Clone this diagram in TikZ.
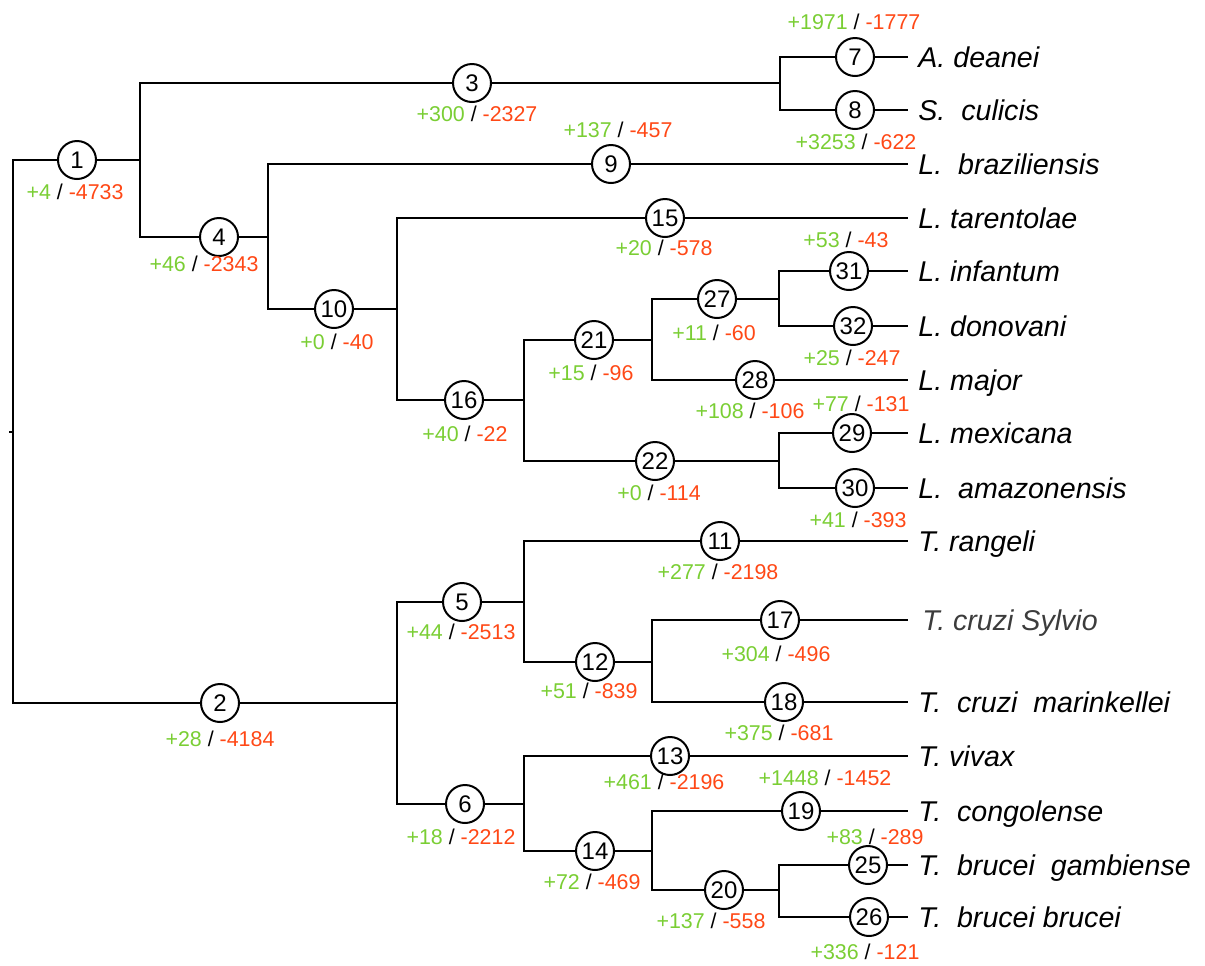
\documentclass[tikz,border=0pt]{standalone}
\usepackage{fontspec}
\setmainfont{Liberation Sans}
\definecolor{gn}{RGB}{122,206,52}
\definecolor{rd}{RGB}{255,72,22}
\definecolor{dk}{RGB}{60,60,60}
\tikzset{
  br/.style={line width=1pt},
  nd/.style={circle, draw, line width=1pt, minimum size=19pt, inner sep=0pt, fill=white, font=\fontsize{12}{14}\selectfont},
  lab/.style={anchor=base, inner sep=0pt, font=\fontsize{10.7}{12}\selectfont},
  leaf/.style={anchor=base west, inner sep=0pt, font=\fontsize{14.3}{17}\selectfont\itshape}
}
\newcommand\glab[5]{\node[lab] (#1) at (#2,#3) {\textcolor{gn}{+#4} / \textcolor{rd}{-#5}};}
\begin{document}
\begin{tikzpicture}[x=0.5pt,y=-0.5pt]
\useasboundingbox (0,0) rectangle (1205,965);
% junctions
\coordinate (root0) at (9,432);
\coordinate (root) at (13,432);
\coordinate (j1) at (140,160);
\coordinate (j3) at (780,83);
\coordinate (j4) at (268,237);
\coordinate (j10) at (397,309);
\coordinate (j16) at (524,400);
\coordinate (j21) at (652,340);
\coordinate (j27) at (779,299);
\coordinate (j22) at (779,461);
\coordinate (j2) at (397,703);
\coordinate (j5) at (524,602);
\coordinate (j12) at (652,662);
\coordinate (j6) at (524,804);
\coordinate (j14) at (652,851);
\coordinate (j20) at (779,890);
% leaf ends
\foreach \n/\y in {7/57,8/110,9/164,15/218,31/271,32/326,28/380,29/433,30/488,11/541,17/620,18/702,13/756,19/811,25/865,26/917}
  \coordinate (e\n) at (908,\y);
% circle nodes
\node[nd] (n1) at (77,160) {1};
\node[nd] (n2) at (220,703) {2};
\node[nd] (n3) at (472,83) {3};
\node[nd] (n4) at (219,237) {4};
\node[nd] (n5) at (462,602) {5};
\node[nd] (n6) at (465,804) {6};
\node[nd] (n7) at (855,57) {7};
\node[nd] (n8) at (855,110) {8};
\node[nd] (n9) at (611,164) {9};
\node[nd] (n10) at (334,309) {10};
\node[nd] (n11) at (720,541) {11};
\node[nd] (n12) at (595,662) {12};
\node[nd] (n13) at (670,756) {13};
\node[nd] (n14) at (595,851) {14};
\node[nd] (n15) at (665,218) {15};
\node[nd] (n16) at (464,400) {16};
\node[nd] (n17) at (780,620) {17};
\node[nd] (n18) at (784,702) {18};
\node[nd] (n19) at (801,811) {19};
\node[nd] (n20) at (724,890) {20};
\node[nd] (n21) at (594,340) {21};
\node[nd] (n22) at (655,461) {22};
\node[nd] (n25) at (868,865) {25};
\node[nd] (n26) at (869,917) {26};
\node[nd] (n27) at (717,299) {27};
\node[nd] (n28) at (755,380) {28};
\node[nd] (n29) at (852,433) {29};
\node[nd] (n30) at (855,488) {30};
\node[nd] (n31) at (849,271) {31};
\node[nd] (n32) at (853,326) {32};
% branches
\draw[line width=0.6pt] (root0) -- (root);
\draw[br] (root) |- (n1) -- (j1);
\draw[br] (root) |- (n2) -- (j2);
\draw[br] (j1) |- (n3) -- (j3);
\draw[br] (j1) |- (n4) -- (j4);
\draw[br] (j3) |- (n7) -- (e7);
\draw[br] (j3) |- (n8) -- (e8);
\draw[br] (j4) |- (n9) -- (e9);
\draw[br] (j4) |- (n10) -- (j10);
\draw[br] (j10) |- (n15) -- (e15);
\draw[br] (j10) |- (n16) -- (j16);
\draw[br] (j16) |- (n21) -- (j21);
\draw[br] (j16) |- (n22) -- (j22);
\draw[br] (j21) |- (n27) -- (j27);
\draw[br] (j21) |- (n28) -- (e28);
\draw[br] (j27) |- (n31) -- (e31);
\draw[br] (j27) |- (n32) -- (e32);
\draw[br] (j22) |- (n29) -- (e29);
\draw[br] (j22) |- (n30) -- (e30);
\draw[br] (j2) |- (n5) -- (j5);
\draw[br] (j2) |- (n6) -- (j6);
\draw[br] (j5) |- (n11) -- (e11);
\draw[br] (j5) |- (n12) -- (j12);
\draw[br] (j12) |- (n17) -- (e17);
\draw[br] (j12) |- (n18) -- (e18);
\draw[br] (j6) |- (n13) -- (e13);
\draw[br] (j6) |- (n14) -- (j14);
\draw[br] (j14) |- (n19) -- (e19);
\draw[br] (j14) |- (n20) -- (j20);
\draw[br] (j20) |- (n25) -- (e25);
\draw[br] (j20) |- (n26) -- (e26);
% gain/loss labels
\glab{l1}{75}{199.5}{4}{4733}
\glab{l3}{477}{121.5}{300}{2327}
\glab{l7}{854}{29.5}{1971}{1777}
\glab{l8}{856}{149.5}{3253}{622}
\glab{l4}{204}{271.5}{46}{2343}
\glab{l9}{618}{137.5}{137}{457}
\glab{l10}{337}{349.5}{0}{40}
\glab{l15}{664}{255.5}{20}{578}
\glab{l31}{846}{247.5}{53}{43}
\glab{l27}{714}{340.5}{11}{60}
\glab{l32}{852}{365.5}{25}{247}
\glab{l21}{591}{380.5}{15}{96}
\glab{l28}{750}{418.5}{108}{106}
\glab{l29}{861}{411.5}{77}{131}
\glab{l16}{465}{441.5}{40}{22}
\glab{l22}{659}{500.5}{0}{114}
\glab{l30}{858}{527.5}{41}{393}
\glab{l11}{718}{579.5}{277}{2198}
\glab{l5}{461}{639.5}{44}{2513}
\glab{l17}{776}{661.5}{304}{496}
\glab{l12}{589}{698.5}{51}{839}
\glab{l18}{779}{740.5}{375}{681}
\glab{l2}{220}{746.5}{28}{4184}
\glab{l13}{664}{789.5}{461}{2196}
\glab{l19}{825}{785.5}{1448}{1452}
\glab{l6}{461}{844.5}{18}{2212}
\glab{l25}{875}{844.5}{83}{289}
\glab{l14}{592}{889.5}{72}{469}
\glab{l20}{711}{928.5}{137}{558}
\glab{l26}{865}{959.5}{336}{121}
% taxa
\node[leaf] (t7) at (918,67) {A. deanei};
\node[leaf] (t8) at (918,120) {S.~ culicis};
\node[leaf] (t9) at (918,174) {L.~ braziliensis};
\node[leaf] (t15) at (918,228) {L. tarentolae};
\node[leaf] (t31) at (918,281) {L. infantum};
\node[leaf] (t32) at (918,336) {L. donovani};
\node[leaf] (t28) at (918,390) {L. major};
\node[leaf] (t29) at (918,443) {L. mexicana};
\node[leaf] (t30) at (918,498) {L.~ amazonensis};
\node[leaf] (t11) at (918,551) {T. rangeli};
\node[leaf, text=dk] (t17) at (922,630) {T. cruzi Sylvio};
\node[leaf] (t18) at (918,712) {T.~ cruzi~ marinkellei};
\node[leaf] (t13) at (918,766) {T. vivax};
\node[leaf] (t19) at (918,821) {T.~ congolense};
\node[leaf] (t25) at (918,875) {T.~ brucei~ gambiense};
\node[leaf] (t26) at (918,927) {T.~ brucei brucei};
\end{tikzpicture}
\end{document}
